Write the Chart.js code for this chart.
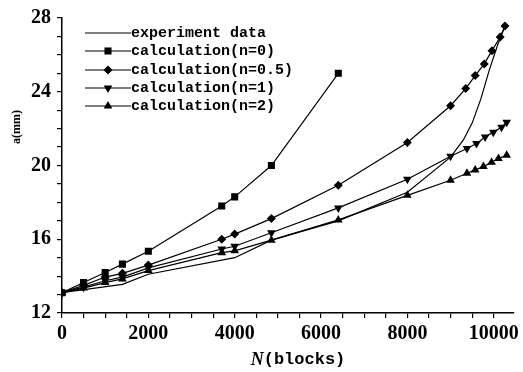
<!DOCTYPE html>
<html><head><meta charset="utf-8">
<script src="https://cdn.jsdelivr.net/npm/chart.js@4.4.0/dist/chart.umd.min.js"></script>
<style>html,body{margin:0;padding:0;background:#fff}</style>
</head><body>
<canvas id="c" width="523" height="372"></canvas>
<script>
// ---- data ----
const seriesNames = ['experiment data','calculation(n=0)','calculation(n=0.5)','calculation(n=1)','calculation(n=2)'];

const expN = [0, 1400, 2000, 4000, 4850, 6400, 8000, 9000, 9300, 9500, 9700, 9900, 10100, 10260];
const expA = [13.1, 13.55, 14.1, 15.0, 15.95, 17.0, 18.55, 20.45, 21.4, 22.3, 23.6, 25.2, 26.6, 27.55];

const n0N = [0, 500, 1000, 1400, 2000, 3700, 4000, 4850, 6400];
const n0A = [13.1, 13.65, 14.2, 14.65, 15.35, 17.8, 18.3, 20.0, 25.0];

const n05N = [0, 500, 1000, 1400, 2000, 3700, 4000, 4850, 6400, 8000, 9000, 9350, 9570, 9780, 9960, 10150, 10260];
const n05A = [13.1, 13.5, 13.95, 14.15, 14.6, 16.0, 16.28, 17.12, 18.93, 21.25, 23.24, 24.17, 24.88, 25.51, 26.23, 26.97, 27.57];

const n1N = [0, 500, 1000, 1400, 2000, 3700, 4000, 4850, 6400, 8000, 9000, 9380, 9600, 9800, 9990, 10180, 10300];
const n1A = [13.1, 13.4, 13.75, 13.95, 14.45, 15.47, 15.62, 16.35, 17.7, 19.25, 20.5, 20.92, 21.19, 21.54, 21.81, 22.08, 22.35];

const n2N = [0, 500, 1000, 1400, 2000, 3700, 4000, 4850, 6400, 8000, 9000, 9380, 9570, 9760, 9950, 10110, 10300];
const n2A = [13.1, 13.35, 13.65, 13.85, 14.3, 15.27, 15.37, 15.95, 17.05, 18.38, 19.2, 19.58, 19.76, 19.94, 20.18, 20.38, 20.56];

const xTickValues = [0,500,1000,1500,2000,2500,3000,3500,4000,4500,5000,5500,6000,6500,7000,7500,8000,8500,9000,9500,10000];
const xLabelValues = [0,2000,4000,6000,8000,10000];
const yTickValues = [12,13,14,15,16,17,18,19,20,21,22,23,24,25,26,27,28];
const yLabelValues = [12,16,20,24,28];
const xTitleItalic = 'N', xTitleRest = '(blocks)';
const yTitle = 'a(mm)';

const pts = (xs, ys) => xs.map((x, i) => ({x: x, y: ys[i]}));

const styles = [
  {pointStyle: false, pointRadius: 0, rotation: 0},
  {pointStyle: 'rect', pointRadius: 5, rotation: 0},
  {pointStyle: 'rectRot', pointRadius: 4.5, rotation: 0},
  {pointStyle: 'triangle', pointRadius: 5, rotation: 180},
  {pointStyle: 'triangle', pointRadius: 5, rotation: 0}
];
const dataSets = [pts(expN, expA), pts(n0N, n0A), pts(n05N, n05A), pts(n1N, n1A), pts(n2N, n2A)];

const datasets = dataSets.map((d, i) => ({
  label: seriesNames[i],
  data: d,
  borderColor: '#000',
  backgroundColor: '#000',
  borderWidth: 1.2,
  pointStyle: styles[i].pointStyle,
  pointRadius: styles[i].pointRadius,
  pointRotation: styles[i].rotation,
  pointBorderWidth: 0,
  tension: 0
}));

function drawMarker(ctx, style, r, rot, x, y) {
  if (!style) return;
  ctx.save();
  ctx.translate(x, y);
  ctx.rotate(rot * Math.PI / 180);
  ctx.beginPath();
  if (style === 'rect') {
    const s = Math.SQRT1_2 * r;
    ctx.rect(-s, -s, 2 * s, 2 * s);
  } else if (style === 'rectRot') {
    ctx.moveTo(0, -r); ctx.lineTo(r, 0); ctx.lineTo(0, r); ctx.lineTo(-r, 0); ctx.closePath();
  } else if (style === 'triangle') {
    for (let k = 0; k < 3; k++) {
      const a = k * 2 * Math.PI / 3;
      const px = Math.sin(a) * r, py = -Math.cos(a) * r;
      if (k === 0) ctx.moveTo(px, py); else ctx.lineTo(px, py);
    }
    ctx.closePath();
  }
  ctx.fillStyle = '#000';
  ctx.fill();
  ctx.restore();
}

const overlay = {
  id: 'overlay',
  afterDraw(chart) {
    const ctx = chart.ctx;
    ctx.save();
    // legend
    const rowY = [33, 51, 70, 88, 106];
    chart.data.datasets.forEach((ds, i) => {
      const y = rowY[i];
      ctx.strokeStyle = ds.borderColor;
      ctx.lineWidth = ds.borderWidth;
      ctx.beginPath(); ctx.moveTo(85, y); ctx.lineTo(131, y); ctx.stroke();
      drawMarker(ctx, ds.pointStyle, ds.pointRadius, ds.pointRotation, 108, y);
      ctx.fillStyle = '#000';
      ctx.font = 'bold 15px "Liberation Mono", "DejaVu Sans Mono", monospace';
      ctx.textBaseline = 'middle';
      ctx.textAlign = 'left';
      ctx.fillText(ds.label, 131, y);
    });
    // x title
    ctx.textBaseline = 'middle';
    ctx.font = 'italic bold 18px "Liberation Serif", serif';
    const w1 = ctx.measureText(xTitleItalic).width;
    ctx.font = 'bold 17px "Liberation Mono", monospace';
    const w2 = ctx.measureText(xTitleRest).width;
    let x0 = 298 - (w1 + w2) / 2;
    ctx.font = 'italic bold 18px "Liberation Serif", serif';
    ctx.fillText(xTitleItalic, x0, 360);
    ctx.font = 'bold 17px "Liberation Mono", monospace';
    ctx.fillText(xTitleRest, x0 + w1, 360);
    // y title
    ctx.translate(17, 127);
    ctx.rotate(-Math.PI / 2);
    ctx.textAlign = 'center';
    ctx.font = 'bold 12px "Liberation Serif", serif';
    ctx.fillText(yTitle, 0, 0);
    ctx.restore();
  }
};

new Chart(document.getElementById('c'), {
  type: 'line',
  data: {datasets: datasets},
  options: {
    responsive: false,
    animation: false,
    devicePixelRatio: 1,
    layout: {padding: {left: 0, right: 6, top: 15, bottom: 0}},
    plugins: {legend: {display: false}, tooltip: {enabled: false}},
    scales: {
      x: {
        type: 'linear', min: 0, max: 10460,
        afterBuildTicks: s => { s.ticks = xTickValues.map(v => ({value: v})); },
        afterFit: s => { s.height = 59; },
        ticks: {
          autoSkip: false, maxRotation: 0, padding: 4, color: '#000',
          font: {family: '"Liberation Serif", serif', size: 20, weight: 'bold'},
          callback: v => xLabelValues.includes(v) ? String(v) : ''
        },
        grid: {display: true, drawOnChartArea: false, drawTicks: true, tickLength: 5, color: '#000', lineWidth: 1.2},
        border: {display: true, color: '#000', width: 1.5}
      },
      y: {
        type: 'linear', min: 12, max: 28,
        afterBuildTicks: s => { s.ticks = yTickValues.map(v => ({value: v})); },
        afterFit: s => { s.width = 62; },
        ticks: {
          autoSkip: false, padding: 6, color: '#000',
          font: {family: '"Liberation Serif", serif', size: 20, weight: 'bold'},
          callback: v => yLabelValues.includes(v) ? String(v) : ''
        },
        grid: {display: true, drawOnChartArea: false, drawTicks: true, tickLength: 5, color: '#000', lineWidth: 1.2},
        border: {display: true, color: '#000', width: 1.5}
      }
    }
  },
  plugins: [overlay]
});
</script>
</body></html>
